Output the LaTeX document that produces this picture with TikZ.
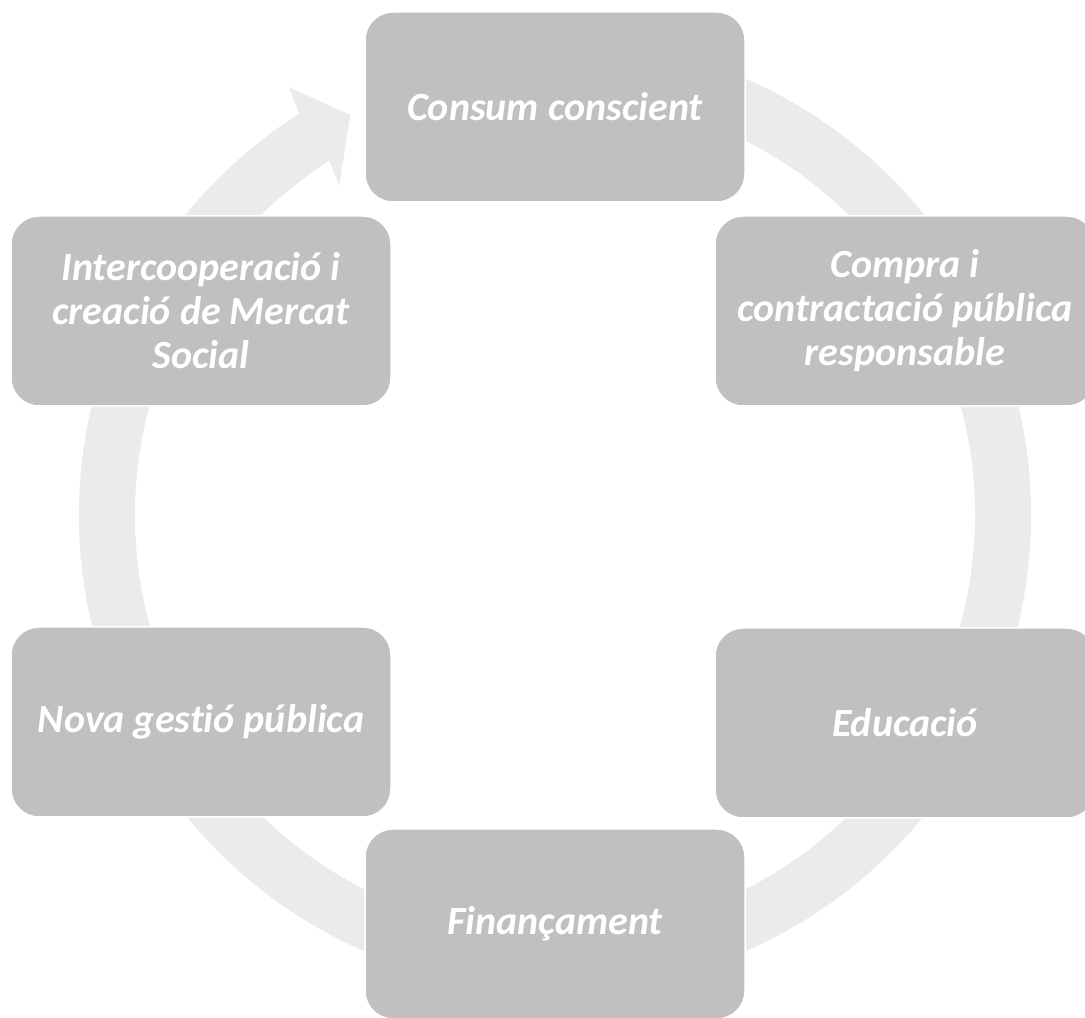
\documentclass[tikz,border=0pt]{standalone}
\usepackage{fontspec}
\setmainfont{Carlito}[Ligatures={NoCommon}]
\definecolor{ringc}{RGB}{235,235,235}
\definecolor{boxc}{RGB}{192,192,192}
\begin{document}
\begin{tikzpicture}[x=1pt,y=1pt,
  stepbox/.style={rectangle, rounded corners=28pt, fill=boxc, draw=white, line width=1.5pt,
    minimum width=380pt, minimum height=190pt, text=white, align=center,
    font=\bfseries\itshape\fontsize{40}{44}\selectfont}]
\useasboundingbox (0,0) rectangle (1085,1018);
% circular arrow
\fill[ringc, shift={(555pt,503pt)}]
  (75:476pt) arc[start angle=75, end angle=-237.5, radius=476pt]
  -- (121.9:504pt) -- (117.1:449.5pt) -- (123.2:394pt) -- (122.5:420pt)
  arc[start angle=-237.5, end angle=75, radius=420pt] -- cycle;
% boxes
\node[stepbox] (a) at (555,911) {Consum conscient};
\node[stepbox] (b) at (905,707) {Compra i\\contractació pública\\responsable};
\node[stepbox] (c) at (905,295) {Educació};
\node[stepbox] (d) at (555,94) {Finançament};
\node[stepbox] (e) at (201,296) {Nova gestió pública};
\node[stepbox] (f) at (201,707) {Intercooperació i\\creació de Mercat\\Social};
\end{tikzpicture}
\end{document}
